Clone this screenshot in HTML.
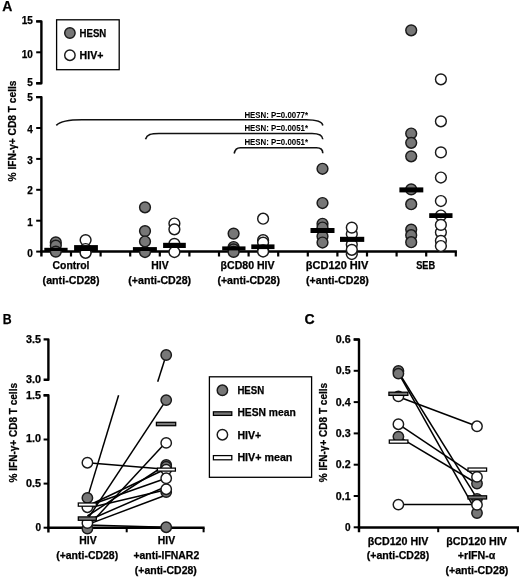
<!DOCTYPE html>
<html><head><meta charset="utf-8"><style>
html,body{margin:0;padding:0;background:#fff;}
text{stroke:#000;stroke-width:0.25px;}
svg{display:block;will-change:transform;font-family:"Liberation Sans",sans-serif;}
</style></head><body>
<svg width="520" height="579" viewBox="0 0 520 579">
<rect width="520" height="579" fill="#fff"/>
<text x="2.2" y="10.8" font-size="14" font-weight="bold" >A</text>
<path d="M36.2,21.4 H41.4 V83.3 H36.2" fill="none" stroke="#000" stroke-width="2.4" stroke-linejoin="round"/>
<line x1="36.2" y1="21.4" x2="41.4" y2="21.4" stroke="#000" stroke-width="2.0"/>
<line x1="36.2" y1="52.3" x2="41.4" y2="52.3" stroke="#000" stroke-width="2.0"/>
<line x1="36.2" y1="83.3" x2="41.4" y2="83.3" stroke="#000" stroke-width="2.0"/>
<path d="M36.2,97.1 H41.4 V256.5" fill="none" stroke="#000" stroke-width="2.4" stroke-linejoin="round"/>
<line x1="36.2" y1="251.6" x2="41.4" y2="251.6" stroke="#000" stroke-width="2.0"/>
<line x1="36.2" y1="220.7" x2="41.4" y2="220.7" stroke="#000" stroke-width="2.0"/>
<line x1="36.2" y1="189.8" x2="41.4" y2="189.8" stroke="#000" stroke-width="2.0"/>
<line x1="36.2" y1="158.9" x2="41.4" y2="158.9" stroke="#000" stroke-width="2.0"/>
<line x1="36.2" y1="128.0" x2="41.4" y2="128.0" stroke="#000" stroke-width="2.0"/>
<line x1="36.2" y1="97.1" x2="41.4" y2="97.1" stroke="#000" stroke-width="2.0"/>
<line x1="40.199999999999996" y1="251.6" x2="456.9" y2="251.6" stroke="#000" stroke-width="2.5"/>
<line x1="71.0" y1="251.6" x2="71.0" y2="256.5" stroke="#000" stroke-width="2.2"/>
<line x1="100.6" y1="251.6" x2="100.6" y2="256.5" stroke="#000" stroke-width="2.2"/>
<line x1="130.20000000000002" y1="251.6" x2="130.20000000000002" y2="256.5" stroke="#000" stroke-width="2.2"/>
<line x1="159.8" y1="251.6" x2="159.8" y2="256.5" stroke="#000" stroke-width="2.2"/>
<line x1="189.4" y1="251.6" x2="189.4" y2="256.5" stroke="#000" stroke-width="2.2"/>
<line x1="219.00000000000003" y1="251.6" x2="219.00000000000003" y2="256.5" stroke="#000" stroke-width="2.2"/>
<line x1="248.60000000000002" y1="251.6" x2="248.60000000000002" y2="256.5" stroke="#000" stroke-width="2.2"/>
<line x1="278.2" y1="251.6" x2="278.2" y2="256.5" stroke="#000" stroke-width="2.2"/>
<line x1="307.8" y1="251.6" x2="307.8" y2="256.5" stroke="#000" stroke-width="2.2"/>
<line x1="337.4" y1="251.6" x2="337.4" y2="256.5" stroke="#000" stroke-width="2.2"/>
<line x1="367.0" y1="251.6" x2="367.0" y2="256.5" stroke="#000" stroke-width="2.2"/>
<line x1="396.6" y1="251.6" x2="396.6" y2="256.5" stroke="#000" stroke-width="2.2"/>
<line x1="426.2" y1="251.6" x2="426.2" y2="256.5" stroke="#000" stroke-width="2.2"/>
<line x1="455.8" y1="251.6" x2="455.8" y2="256.5" stroke="#000" stroke-width="2.2"/>
<text x="32.8" y="23.8" font-size="10" text-anchor="end" font-weight="bold" >15</text>
<text x="32.8" y="57.5" font-size="10" text-anchor="end" font-weight="bold" >10</text>
<text x="32.8" y="86.2" font-size="10" text-anchor="end" font-weight="bold" >5</text>
<text x="32.8" y="100.9" font-size="10" text-anchor="end" font-weight="bold" >5</text>
<text x="32.8" y="132.5" font-size="10" text-anchor="end" font-weight="bold" >4</text>
<text x="32.8" y="163.6" font-size="10" text-anchor="end" font-weight="bold" >3</text>
<text x="32.8" y="194.3" font-size="10" text-anchor="end" font-weight="bold" >2</text>
<text x="32.8" y="226.0" font-size="10" text-anchor="end" font-weight="bold" >1</text>
<text x="32.8" y="257.2" font-size="10" text-anchor="end" font-weight="bold" >0</text>
<text transform="translate(16,181.5) rotate(-90)" font-size="10.2" font-weight="bold" textLength="101" lengthAdjust="spacingAndGlyphs">% IFN-γ+ CD8 T cells</text>
<rect x="56.6" y="19.8" width="62.6" height="49.9" fill="none" stroke="#000" stroke-width="1.3"/>
<circle cx="69.9" cy="33.0" r="5.2" fill="#777777" stroke="#1a1a1a" stroke-width="1.45"/>
<circle cx="69.9" cy="55.2" r="5.2" fill="#fff" stroke="#1a1a1a" stroke-width="1.45"/>
<text x="79.6" y="37.2" font-size="10.3" textLength="26.7" lengthAdjust="spacingAndGlyphs" font-weight="bold" >HESN</text>
<text x="79.6" y="59.4" font-size="10.3" textLength="23.8" lengthAdjust="spacingAndGlyphs" font-weight="bold" >HIV+</text>
<g fill="none" stroke="#111" stroke-width="1.6">
<path d="M56.3,125.4 C60,121.6 67,119.8 82,119.8 L306,119.8 C316,119.8 322,121 322.8,125.5"/>
<path d="M145.5,139.2 C147,134.5 151,133.5 159,133.5 L312,133.5 C319,133.5 322.5,135.5 322.8,139.2"/>
<path d="M234.2,153.5 C235,149 237,147.7 240.4,147.7 L316.6,147.7 C320.5,147.7 322.8,150 322.8,153.3"/>
</g>
<text x="244.4" y="117.6" font-size="8.4" textLength="63.6" lengthAdjust="spacingAndGlyphs" font-weight="bold" style="stroke-width:0.05px">HESN: P=0.0077*</text>
<text x="244.4" y="131.4" font-size="8.4" textLength="63.6" lengthAdjust="spacingAndGlyphs" font-weight="bold" style="stroke-width:0.05px">HESN: P=0.0051*</text>
<text x="244.4" y="145.1" font-size="8.4" textLength="63.6" lengthAdjust="spacingAndGlyphs" font-weight="bold" style="stroke-width:0.05px">HESN: P=0.0051*</text>
<circle cx="55.8" cy="242.4" r="5.4" fill="#777777" stroke="#1a1a1a" stroke-width="1.45"/>
<circle cx="55.8" cy="245.6" r="5.4" fill="#777777" stroke="#1a1a1a" stroke-width="1.45"/>
<circle cx="55.8" cy="251.6" r="5.4" fill="#777777" stroke="#1a1a1a" stroke-width="1.45"/>
<rect x="44.3" y="247.8" width="23.299999999999997" height="3.1999999999999886" fill="#000"/>
<circle cx="85.6" cy="240.1" r="5.4" fill="#fff" stroke="#1a1a1a" stroke-width="1.45"/>
<circle cx="85.6" cy="249.0" r="5.4" fill="#fff" stroke="#1a1a1a" stroke-width="1.45"/>
<circle cx="85.6" cy="251.6" r="5.4" fill="#fff" stroke="#1a1a1a" stroke-width="1.45"/>
<circle cx="85.6" cy="252.8" r="5.4" fill="#fff" stroke="#1a1a1a" stroke-width="1.45"/>
<rect x="74.1" y="245.1" width="23.80000000000001" height="5.900000000000006" fill="#000"/>
<circle cx="145.0" cy="207.3" r="5.4" fill="#777777" stroke="#1a1a1a" stroke-width="1.45"/>
<circle cx="145.0" cy="231.1" r="5.4" fill="#777777" stroke="#1a1a1a" stroke-width="1.45"/>
<circle cx="145.0" cy="241.5" r="5.4" fill="#777777" stroke="#1a1a1a" stroke-width="1.45"/>
<circle cx="145.0" cy="252.0" r="5.4" fill="#777777" stroke="#1a1a1a" stroke-width="1.45"/>
<rect x="132.9" y="247.1" width="24.0" height="3.9000000000000057" fill="#000"/>
<circle cx="174.4" cy="223.5" r="5.4" fill="#fff" stroke="#1a1a1a" stroke-width="1.45"/>
<circle cx="174.4" cy="229.3" r="5.4" fill="#fff" stroke="#1a1a1a" stroke-width="1.45"/>
<circle cx="174.4" cy="243.8" r="5.4" fill="#fff" stroke="#1a1a1a" stroke-width="1.45"/>
<circle cx="174.4" cy="252.0" r="5.4" fill="#fff" stroke="#1a1a1a" stroke-width="1.45"/>
<rect x="163.1" y="242.8" width="22.700000000000017" height="5.199999999999989" fill="#000"/>
<circle cx="233.6" cy="233.6" r="5.4" fill="#777777" stroke="#1a1a1a" stroke-width="1.45"/>
<circle cx="233.6" cy="247.0" r="5.4" fill="#777777" stroke="#1a1a1a" stroke-width="1.45"/>
<circle cx="233.6" cy="249.4" r="5.4" fill="#777777" stroke="#1a1a1a" stroke-width="1.45"/>
<circle cx="233.6" cy="251.9" r="5.4" fill="#777777" stroke="#1a1a1a" stroke-width="1.45"/>
<rect x="222.2" y="246.4" width="23.30000000000001" height="4.0" fill="#000"/>
<circle cx="263.1" cy="218.7" r="5.4" fill="#fff" stroke="#1a1a1a" stroke-width="1.45"/>
<circle cx="263.1" cy="240.2" r="5.4" fill="#fff" stroke="#1a1a1a" stroke-width="1.45"/>
<circle cx="263.1" cy="242.6" r="5.4" fill="#fff" stroke="#1a1a1a" stroke-width="1.45"/>
<circle cx="263.1" cy="250.3" r="5.4" fill="#fff" stroke="#1a1a1a" stroke-width="1.45"/>
<circle cx="263.1" cy="251.5" r="5.4" fill="#fff" stroke="#1a1a1a" stroke-width="1.45"/>
<rect x="251.3" y="244.4" width="23.19999999999999" height="4.699999999999989" fill="#000"/>
<circle cx="322.5" cy="168.75" r="5.4" fill="#777777" stroke="#1a1a1a" stroke-width="1.45"/>
<circle cx="322.5" cy="203.0" r="5.4" fill="#777777" stroke="#1a1a1a" stroke-width="1.45"/>
<circle cx="322.5" cy="223.75" r="5.4" fill="#777777" stroke="#1a1a1a" stroke-width="1.45"/>
<circle cx="322.5" cy="227.5" r="5.4" fill="#777777" stroke="#1a1a1a" stroke-width="1.45"/>
<circle cx="322.5" cy="236.25" r="5.4" fill="#777777" stroke="#1a1a1a" stroke-width="1.45"/>
<circle cx="322.5" cy="242.5" r="5.4" fill="#777777" stroke="#1a1a1a" stroke-width="1.45"/>
<rect x="310.5" y="228.0" width="24.0" height="5.0" fill="#000"/>
<circle cx="351.8" cy="234.0" r="5.4" fill="#fff" stroke="#1a1a1a" stroke-width="1.45"/>
<circle cx="351.8" cy="227.6" r="5.4" fill="#fff" stroke="#1a1a1a" stroke-width="1.45"/>
<circle cx="351.8" cy="244.5" r="5.4" fill="#fff" stroke="#1a1a1a" stroke-width="1.45"/>
<circle cx="351.8" cy="254.0" r="5.4" fill="#fff" stroke="#1a1a1a" stroke-width="1.45"/>
<circle cx="351.8" cy="249.8" r="5.4" fill="#fff" stroke="#1a1a1a" stroke-width="1.45"/>
<rect x="340.0" y="236.8" width="24.25" height="5.099999999999994" fill="#000"/>
<circle cx="411.2" cy="30.3" r="5.4" fill="#777777" stroke="#1a1a1a" stroke-width="1.45"/>
<circle cx="411.2" cy="133.5" r="5.4" fill="#777777" stroke="#1a1a1a" stroke-width="1.45"/>
<circle cx="411.2" cy="142.8" r="5.4" fill="#777777" stroke="#1a1a1a" stroke-width="1.45"/>
<circle cx="411.2" cy="156.3" r="5.4" fill="#777777" stroke="#1a1a1a" stroke-width="1.45"/>
<circle cx="411.2" cy="189.4" r="5.4" fill="#777777" stroke="#1a1a1a" stroke-width="1.45"/>
<circle cx="411.2" cy="204.2" r="5.4" fill="#777777" stroke="#1a1a1a" stroke-width="1.45"/>
<circle cx="411.2" cy="229.6" r="5.4" fill="#777777" stroke="#1a1a1a" stroke-width="1.45"/>
<circle cx="411.2" cy="235.2" r="5.4" fill="#777777" stroke="#1a1a1a" stroke-width="1.45"/>
<circle cx="411.2" cy="242.2" r="5.4" fill="#777777" stroke="#1a1a1a" stroke-width="1.45"/>
<rect x="399.4" y="187.4" width="23.900000000000034" height="5.0" fill="#000"/>
<circle cx="440.9" cy="79.3" r="5.4" fill="#fff" stroke="#1a1a1a" stroke-width="1.45"/>
<circle cx="440.9" cy="121.3" r="5.4" fill="#fff" stroke="#1a1a1a" stroke-width="1.45"/>
<circle cx="440.9" cy="152.4" r="5.4" fill="#fff" stroke="#1a1a1a" stroke-width="1.45"/>
<circle cx="440.9" cy="177.5" r="5.4" fill="#fff" stroke="#1a1a1a" stroke-width="1.45"/>
<circle cx="440.9" cy="201.0" r="5.4" fill="#fff" stroke="#1a1a1a" stroke-width="1.45"/>
<circle cx="440.9" cy="215.5" r="5.4" fill="#fff" stroke="#1a1a1a" stroke-width="1.45"/>
<circle cx="440.9" cy="232.3" r="5.4" fill="#fff" stroke="#1a1a1a" stroke-width="1.45"/>
<circle cx="440.9" cy="224.9" r="5.4" fill="#fff" stroke="#1a1a1a" stroke-width="1.45"/>
<circle cx="440.9" cy="240.8" r="5.4" fill="#fff" stroke="#1a1a1a" stroke-width="1.45"/>
<circle cx="440.9" cy="246.0" r="5.4" fill="#fff" stroke="#1a1a1a" stroke-width="1.45"/>
<rect x="429.2" y="213.2" width="23.30000000000001" height="4.800000000000011" fill="#000"/>
<text x="71.0" y="269.2" font-size="10.4" text-anchor="middle" font-weight="bold" >Control</text>
<text x="71.1" y="284.2" font-size="10.4" text-anchor="middle" textLength="57.0" lengthAdjust="spacingAndGlyphs" font-weight="bold" >(anti-CD28)</text>
<text x="160.0" y="269.2" font-size="10.4" text-anchor="middle" font-weight="bold" >HIV</text>
<text x="159.7" y="284.2" font-size="10.4" text-anchor="middle" textLength="62.8" lengthAdjust="spacingAndGlyphs" font-weight="bold" >(+anti-CD28)</text>
<text x="247.6" y="269.2" font-size="10.4" text-anchor="middle" textLength="54.0" lengthAdjust="spacingAndGlyphs" font-weight="bold" >βCD80 HIV</text>
<text x="248.7" y="284.2" font-size="10.4" text-anchor="middle" textLength="62.6" lengthAdjust="spacingAndGlyphs" font-weight="bold" >(+anti-CD28)</text>
<text x="337.0" y="269.2" font-size="10.4" text-anchor="middle" textLength="62.5" lengthAdjust="spacingAndGlyphs" font-weight="bold" >βCD120 HIV</text>
<text x="337.4" y="284.2" font-size="10.4" text-anchor="middle" textLength="63.0" lengthAdjust="spacingAndGlyphs" font-weight="bold" >(+anti-CD28)</text>
<text x="425.7" y="269.2" font-size="10.4" text-anchor="middle" textLength="19.0" lengthAdjust="spacingAndGlyphs" font-weight="bold" >SEB</text>
<text x="2.8" y="323.5" font-size="14" textLength="8.9" lengthAdjust="spacingAndGlyphs" font-weight="bold" >B</text>
<path d="M43.6,339.4 H48.4 V379.8 H43.6" fill="none" stroke="#000" stroke-width="2.4" stroke-linejoin="round"/>
<path d="M43.6,395.3 H48.4 V532.5" fill="none" stroke="#000" stroke-width="2.4" stroke-linejoin="round"/>
<line x1="43.6" y1="527.7" x2="48.4" y2="527.7" stroke="#000" stroke-width="2.0"/>
<line x1="43.6" y1="483.6" x2="48.4" y2="483.6" stroke="#000" stroke-width="2.0"/>
<line x1="43.6" y1="439.50000000000006" x2="48.4" y2="439.50000000000006" stroke="#000" stroke-width="2.0"/>
<line x1="43.6" y1="395.40000000000003" x2="48.4" y2="395.40000000000003" stroke="#000" stroke-width="2.0"/>
<line x1="47.199999999999996" y1="527.7" x2="204.6" y2="527.7" stroke="#000" stroke-width="2.4"/>
<line x1="126.7" y1="527.7" x2="126.7" y2="532.3" stroke="#000" stroke-width="2.0"/>
<line x1="203.6" y1="527.7" x2="203.6" y2="532.3" stroke="#000" stroke-width="2.0"/>
<text x="41.0" y="342.6" font-size="10.0" text-anchor="end" textLength="15.0" lengthAdjust="spacingAndGlyphs" font-weight="bold" >3.5</text>
<text x="41.0" y="383.0" font-size="10.0" text-anchor="end" textLength="15.0" lengthAdjust="spacingAndGlyphs" font-weight="bold" >3.0</text>
<text x="41.0" y="398.6" font-size="10.0" text-anchor="end" textLength="15.0" lengthAdjust="spacingAndGlyphs" font-weight="bold" >1.5</text>
<text x="41.0" y="442.4" font-size="10.0" text-anchor="end" textLength="15.0" lengthAdjust="spacingAndGlyphs" font-weight="bold" >1.0</text>
<text x="41.0" y="486.9" font-size="10.0" text-anchor="end" textLength="15.0" lengthAdjust="spacingAndGlyphs" font-weight="bold" >0.5</text>
<text x="41.0" y="531.0" font-size="10.0" text-anchor="end" font-weight="bold" >0</text>
<text transform="translate(17,482.4) rotate(-90)" font-size="10.2" font-weight="bold" textLength="99.4" lengthAdjust="spacingAndGlyphs">% IFN-γ+ CD8 T cells</text>
<g stroke="#000" stroke-width="1.5">
<line x1="87.4" y1="497.9" x2="118.6" y2="395.2"/>
<line x1="157.7" y1="381.8" x2="166.2" y2="355.0"/>
<line x1="87.4" y1="519.4" x2="166.2" y2="400.1"/>
<line x1="87.4" y1="527.0" x2="166.2" y2="442.0"/>
<line x1="87.4" y1="462.7" x2="166.2" y2="469.3"/>
<line x1="87.4" y1="506.0" x2="166.2" y2="468.8"/>
<line x1="87.4" y1="506.0" x2="166.2" y2="478.3"/>
<line x1="87.4" y1="508.3" x2="166.2" y2="489.8"/>
<line x1="87.4" y1="520.7" x2="166.2" y2="486.5"/>
<line x1="87.4" y1="524.6" x2="166.2" y2="495.0"/>
<line x1="87.4" y1="525.0" x2="166.2" y2="527.2"/>
<line x1="87.4" y1="516.0" x2="166.2" y2="464.5"/>
</g>
<circle cx="87.4" cy="528.6" r="5.2" fill="#777777" stroke="#1a1a1a" stroke-width="1.45"/>
<circle cx="87.4" cy="523.0" r="5.2" fill="#fff" stroke="#1a1a1a" stroke-width="1.45"/>
<circle cx="87.4" cy="507.2" r="5.2" fill="#fff" stroke="#1a1a1a" stroke-width="1.45"/>
<circle cx="87.4" cy="497.9" r="5.2" fill="#777777" stroke="#1a1a1a" stroke-width="1.45"/>
<circle cx="87.4" cy="462.7" r="5.2" fill="#fff" stroke="#1a1a1a" stroke-width="1.45"/>
<rect x="78.3" y="516.9" width="18" height="3.4" fill="#777777" stroke="#000" stroke-width="1.25"/>
<rect x="78.3" y="503.0" width="18" height="3.2" fill="#fff" stroke="#000" stroke-width="1.25"/>
<circle cx="166.2" cy="527.2" r="5.2" fill="#777777" stroke="#1a1a1a" stroke-width="1.45"/>
<circle cx="166.2" cy="492.0" r="5.2" fill="#777777" stroke="#1a1a1a" stroke-width="1.45"/>
<circle cx="166.2" cy="489.2" r="5.2" fill="#fff" stroke="#1a1a1a" stroke-width="1.45"/>
<circle cx="166.2" cy="468.6" r="5.2" fill="#777777" stroke="#1a1a1a" stroke-width="1.45"/>
<circle cx="166.2" cy="465.0" r="5.2" fill="#777777" stroke="#1a1a1a" stroke-width="1.45"/>
<circle cx="166.2" cy="466.6" r="5.2" fill="#777777" stroke="#1a1a1a" stroke-width="1.45"/>
<circle cx="166.2" cy="469.6" r="5.2" fill="#fff" stroke="#1a1a1a" stroke-width="1.45"/>
<circle cx="166.2" cy="478.3" r="5.2" fill="#fff" stroke="#1a1a1a" stroke-width="1.45"/>
<circle cx="166.2" cy="442.9" r="5.2" fill="#fff" stroke="#1a1a1a" stroke-width="1.45"/>
<circle cx="166.2" cy="400.1" r="5.2" fill="#777777" stroke="#1a1a1a" stroke-width="1.45"/>
<circle cx="166.2" cy="355.0" r="5.2" fill="#777777" stroke="#1a1a1a" stroke-width="1.45"/>
<rect x="156.4" y="422.3" width="19.3" height="3.4" fill="#777777" stroke="#000" stroke-width="1.25"/>
<rect x="157.4" y="468.1" width="18.0" height="3.0" fill="#fff" stroke="#000" stroke-width="1.25"/>
<rect x="209.4" y="376.8" width="102.2" height="100.5" fill="none" stroke="#000" stroke-width="1.3"/>
<circle cx="222.4" cy="390.3" r="5.2" fill="#777777" stroke="#1a1a1a" stroke-width="1.45"/>
<rect x="213.4" y="411.8" width="18.4" height="3.6" fill="#777777" stroke="#000" stroke-width="1.25"/>
<circle cx="222.4" cy="434.7" r="5.2" fill="#fff" stroke="#1a1a1a" stroke-width="1.45"/>
<rect x="213.4" y="455.6" width="18.4" height="4.2" fill="#fff" stroke="#000" stroke-width="1.25"/>
<text x="237.4" y="394.3" font-size="10.3" textLength="26.8" lengthAdjust="spacingAndGlyphs" font-weight="bold" >HESN</text>
<text x="237.4" y="416.3" font-size="10.3" textLength="58.4" lengthAdjust="spacingAndGlyphs" font-weight="bold" >HESN mean</text>
<text x="237.4" y="438.7" font-size="10.3" textLength="23.8" lengthAdjust="spacingAndGlyphs" font-weight="bold" >HIV+</text>
<text x="237.4" y="461.2" font-size="10.3" textLength="55.0" lengthAdjust="spacingAndGlyphs" font-weight="bold" >HIV+ mean</text>
<text x="88.0" y="543.8" font-size="10.4" text-anchor="middle" font-weight="bold" >HIV</text>
<text x="87.2" y="559.0" font-size="10.4" text-anchor="middle" textLength="62.0" lengthAdjust="spacingAndGlyphs" font-weight="bold" >(+anti-CD28)</text>
<text x="166.4" y="543.8" font-size="10.4" text-anchor="middle" font-weight="bold" >HIV</text>
<text x="166.3" y="558.5" font-size="10.4" text-anchor="middle" textLength="65.8" lengthAdjust="spacingAndGlyphs" font-weight="bold" >+anti-IFNAR2</text>
<text x="165.8" y="573.5" font-size="10.4" text-anchor="middle" textLength="62.0" lengthAdjust="spacingAndGlyphs" font-weight="bold" >(+anti-CD28)</text>
<text x="304.6" y="323.5" font-size="14" font-weight="bold" >C</text>
<path d="M353.7,339.5 H359.0 V532.3" fill="none" stroke="#000" stroke-width="2.4" stroke-linejoin="round"/>
<line x1="353.7" y1="527.3" x2="359.0" y2="527.3" stroke="#000" stroke-width="2.0"/>
<line x1="353.7" y1="495.99999999999994" x2="359.0" y2="495.99999999999994" stroke="#000" stroke-width="2.0"/>
<line x1="353.7" y1="464.69999999999993" x2="359.0" y2="464.69999999999993" stroke="#000" stroke-width="2.0"/>
<line x1="353.7" y1="433.4" x2="359.0" y2="433.4" stroke="#000" stroke-width="2.0"/>
<line x1="353.7" y1="402.09999999999997" x2="359.0" y2="402.09999999999997" stroke="#000" stroke-width="2.0"/>
<line x1="353.7" y1="370.79999999999995" x2="359.0" y2="370.79999999999995" stroke="#000" stroke-width="2.0"/>
<line x1="353.7" y1="339.5" x2="359.0" y2="339.5" stroke="#000" stroke-width="2.0"/>
<line x1="357.8" y1="527.5" x2="519.0" y2="527.5" stroke="#000" stroke-width="2.4"/>
<line x1="438.2" y1="527.5" x2="438.2" y2="532.2" stroke="#000" stroke-width="2.0"/>
<line x1="517.9" y1="527.5" x2="517.9" y2="532.2" stroke="#000" stroke-width="2.0"/>
<text x="350.6" y="530.8" font-size="10.0" text-anchor="end" font-weight="bold" >0</text>
<text x="350.6" y="499.49999999999994" font-size="10.0" text-anchor="end" textLength="14.8" lengthAdjust="spacingAndGlyphs" font-weight="bold" >0.1</text>
<text x="350.6" y="468.19999999999993" font-size="10.0" text-anchor="end" textLength="14.8" lengthAdjust="spacingAndGlyphs" font-weight="bold" >0.2</text>
<text x="350.6" y="436.9" font-size="10.0" text-anchor="end" textLength="14.8" lengthAdjust="spacingAndGlyphs" font-weight="bold" >0.3</text>
<text x="350.6" y="405.59999999999997" font-size="10.0" text-anchor="end" textLength="14.8" lengthAdjust="spacingAndGlyphs" font-weight="bold" >0.4</text>
<text x="350.6" y="374.29999999999995" font-size="10.0" text-anchor="end" textLength="14.8" lengthAdjust="spacingAndGlyphs" font-weight="bold" >0.5</text>
<text x="350.6" y="343.0" font-size="10.0" text-anchor="end" textLength="14.8" lengthAdjust="spacingAndGlyphs" font-weight="bold" >0.6</text>
<text transform="translate(326.6,482.3) rotate(-90)" font-size="10.2" font-weight="bold" textLength="99.4" lengthAdjust="spacingAndGlyphs">% IFN-γ+ CD8 T cells</text>
<g stroke="#000" stroke-width="1.5">
<line x1="398.4" y1="372.0" x2="477.0" y2="498.4"/>
<line x1="398.4" y1="372.8" x2="477.0" y2="513.0"/>
<line x1="398.4" y1="396.7" x2="477.0" y2="426.3"/>
<line x1="398.4" y1="424.2" x2="477.0" y2="476.9"/>
<line x1="398.4" y1="436.6" x2="477.0" y2="483.5"/>
<line x1="398.4" y1="504.6" x2="477.0" y2="504.6"/>
</g>
<circle cx="398.4" cy="504.6" r="5.2" fill="#fff" stroke="#1a1a1a" stroke-width="1.45"/>
<circle cx="398.4" cy="436.6" r="5.2" fill="#777777" stroke="#1a1a1a" stroke-width="1.45"/>
<circle cx="398.4" cy="424.2" r="5.2" fill="#fff" stroke="#1a1a1a" stroke-width="1.45"/>
<circle cx="398.4" cy="396.4" r="5.2" fill="#fff" stroke="#1a1a1a" stroke-width="1.45"/>
<circle cx="398.4" cy="370.9" r="5.2" fill="#777777" stroke="#1a1a1a" stroke-width="1.45"/>
<circle cx="398.4" cy="373.6" r="5.2" fill="#777777" stroke="#1a1a1a" stroke-width="1.45"/>
<rect x="388.9" y="392.2" width="19" height="3.2" fill="#777777" stroke="#000" stroke-width="1.25"/>
<rect x="389.3" y="440.0" width="18.6" height="3.2" fill="#fff" stroke="#000" stroke-width="1.25"/>
<circle cx="477.0" cy="513.0" r="5.2" fill="#777777" stroke="#1a1a1a" stroke-width="1.45"/>
<circle cx="477.0" cy="499.0" r="5.2" fill="#777777" stroke="#1a1a1a" stroke-width="1.45"/>
<circle cx="477.0" cy="504.8" r="5.2" fill="#fff" stroke="#1a1a1a" stroke-width="1.45"/>
<circle cx="477.0" cy="483.5" r="5.2" fill="#777777" stroke="#1a1a1a" stroke-width="1.45"/>
<circle cx="477.0" cy="476.9" r="5.2" fill="#fff" stroke="#1a1a1a" stroke-width="1.45"/>
<circle cx="477.0" cy="426.3" r="5.2" fill="#fff" stroke="#1a1a1a" stroke-width="1.45"/>
<rect x="468.0" y="495.8" width="18.6" height="3.2" fill="#777777" stroke="#000" stroke-width="1.25"/>
<rect x="468.0" y="468.0" width="18.6" height="3.2" fill="#fff" stroke="#000" stroke-width="1.25"/>
<text x="398.0" y="544.9" font-size="10.4" text-anchor="middle" textLength="60.6" lengthAdjust="spacingAndGlyphs" font-weight="bold" >βCD120 HIV</text>
<text x="398.0" y="559.3" font-size="10.4" text-anchor="middle" textLength="62.4" lengthAdjust="spacingAndGlyphs" font-weight="bold" >(+anti-CD28)</text>
<text x="476.6" y="544.9" font-size="10.4" text-anchor="middle" textLength="60.9" lengthAdjust="spacingAndGlyphs" font-weight="bold" >βCD120 HIV</text>
<text x="476.6" y="559.2" font-size="10.4" text-anchor="middle" textLength="37.6" lengthAdjust="spacingAndGlyphs" font-weight="bold" >+rIFN-α</text>
<text x="476.9" y="573.6" font-size="10.4" text-anchor="middle" textLength="63.0" lengthAdjust="spacingAndGlyphs" font-weight="bold" >(+anti-CD28)</text>
</svg></body></html>
